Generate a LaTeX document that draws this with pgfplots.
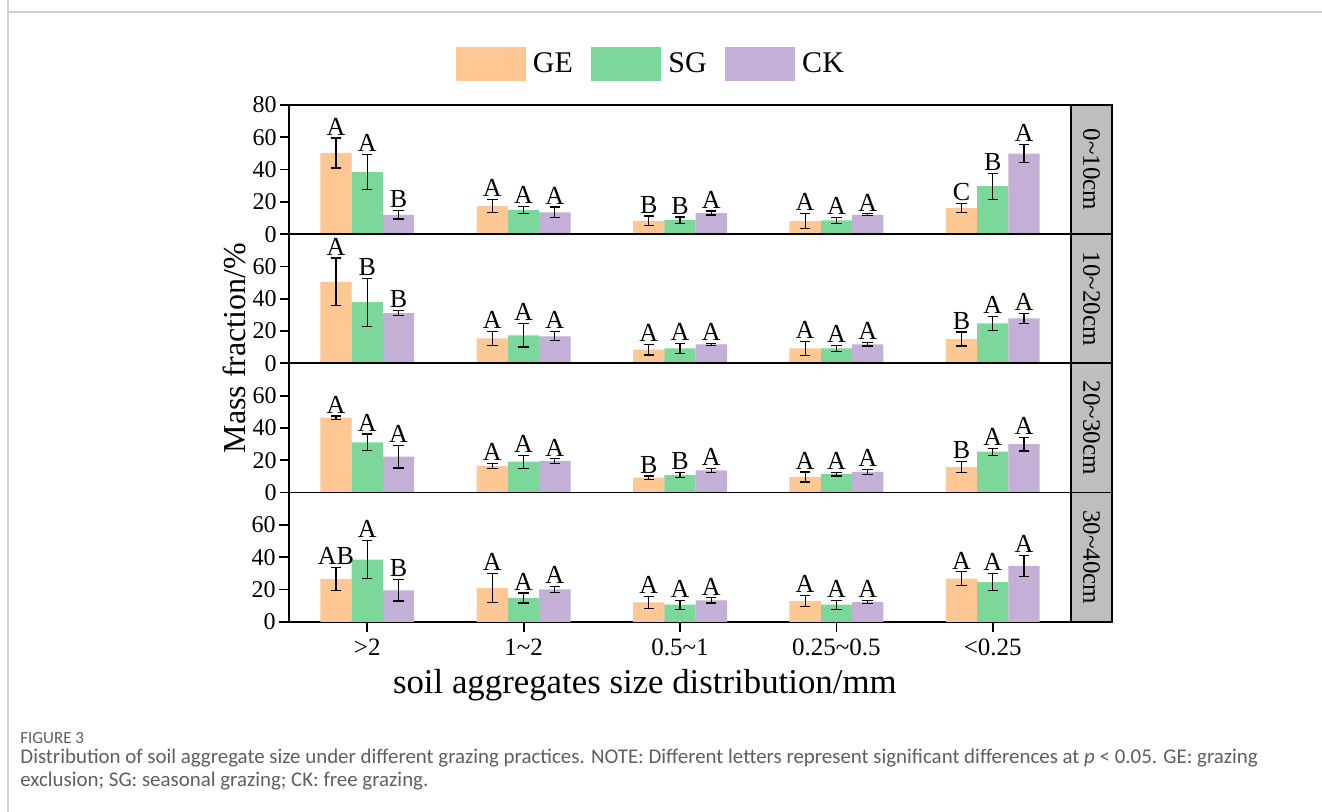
\documentclass[border=0pt]{standalone}
\usepackage[no-math]{fontspec}
\setmainfont{Liberation Serif}
\newfontfamily\tickfont{Liberation Serif}
\newfontfamily\capfont{Carlito}
\usepackage{pgfplots}
\usepackage{pgfplotstable}
\pgfplotsset{compat=1.18}
\definecolor{cGE}{RGB}{255,199,148}
\definecolor{cSG}{RGB}{124,216,154}
\definecolor{cCK}{RGB}{196,175,214}
\definecolor{stripgray}{RGB}{190,190,190}
\definecolor{capgray}{RGB}{95,95,95}

\pgfplotstableread{
x GE GEe SG SGe CK CKe GEl SGl CKl
0 50.3 9.3 38.4 10.8 12.0 2.6 A A B
1 17.4 4.0 14.9 2.3 13.5 3.3 A A A
2 8.3 2.9 8.7 1.9 13.1 1.2 B B A
3 8.1 4.6 8.5 1.9 12.0 0.6 A A A
4 16.2 3.0 29.7 8.0 49.9 5.7 C B A
}\tabA
\pgfplotstableread{
x GE GEe SG SGe CK CKe GEl SGl CKl
0 50.5 14.7 37.9 14.9 31.1 1.5 A B B
1 15.5 4.3 17.4 7.3 16.8 2.8 A A A
2 8.5 3.3 9.3 3.0 11.8 0.5 A A A
3 9.3 4.3 9.3 2.0 11.8 1.0 A A A
4 15.1 4.3 24.8 4.3 27.9 3.1 B A A
}\tabB
\pgfplotstableread{
x GE GEe SG SGe CK CKe GEl SGl CKl
0 46.4 1.0 31.1 5.2 22.2 7.0 A A A
1 16.4 1.6 19.1 4.0 19.5 1.4 A A A
2 9.3 1.0 10.8 1.6 13.7 1.2 B B A
3 9.7 3.1 11.4 1.1 12.8 1.7 A A A
4 15.7 3.4 25.3 2.1 30.0 4.3 B A A
}\tabC
\pgfplotstableread{
x GE GEe SG SGe CK CKe GEl SGl CKl
0 26.5 7.2 38.5 11.8 19.5 6.6 AB A B
1 20.9 8.9 14.7 3.1 20.1 2.0 A A A
2 12.0 3.9 10.6 2.8 13.2 1.6 A A A
3 12.8 3.3 10.6 2.8 12.2 1.0 A A A
4 26.7 4.2 24.6 5.2 34.6 6.5 A A A
}\tabD

\pgfplotsset{
  mylegend/.style={legend image code/.code={\fill[##1] (0pt,-8.5pt) rectangle (35pt,8.5pt);}},
  common/.style={
    scale only axis, width=391pt, height=64.6pt, anchor=north west,
    xmin=-0.5, xmax=4.5, ymin=0, ymax=80,
    axis line style={line width=0.9pt},
    tick align=outside, major tick length=4.5pt,
    tick style={line width=0.9pt, black},
    ytick pos=left, xtick pos=bottom,
    ytick={0,20,40,60},
    yticklabels={\mbox{\tickfont 0},\mbox{\tickfont 20},\mbox{\tickfont 40},\mbox{\tickfont 60}},
    xtick=\empty,
    ticklabel style={font=\fontsize{12}{12}\selectfont},
    yticklabel style={inner sep=1.5pt},
    clip=false,
  },
  barsty/.style={ybar, bar width=0.2, bar shift=0pt, fill=#1, draw=none, mylegend,
    error bars/.cd, y dir=both, y explicit,
    error bar style={black, line width=0.6pt},
    error mark options={black, mark size=2.6pt, line width=0.6pt, rotate=90}},
  letsty/.style={draw=none, mark=none, nodes near coords, point meta=explicit symbolic,
    every node near coord/.style={font=\fontsize{13}{13}\selectfont, anchor=south, inner sep=1.2pt, black}},
}

\newcommand{\panelplots}[2]{%
  \addplot[barsty=cGE] table[x expr=\thisrow{x}-0.2, y=GE, y error=GEe] {#1};
  \addplot[barsty=cSG] table[x=x, y=SG, y error=SGe] {#1};
  \addplot[barsty=cCK] table[x expr=\thisrow{x}+0.2, y=CK, y error=CKe] {#1};
  \addplot[letsty] table[x expr=\thisrow{x}-0.2, y expr=\thisrow{GE}+\thisrow{GEe}, meta=GEl] {#1};
  \addplot[letsty] table[x=x, y expr=\thisrow{SG}+\thisrow{SGe}, meta=SGl] {#1};
  \addplot[letsty] table[x expr=\thisrow{x}+0.2, y expr=\thisrow{CK}+\thisrow{CKe}, meta=CKl] {#1};
  \draw[fill=stripgray, line width=0.9pt] (rel axis cs:1,0) rectangle ([xshift=20.6pt]rel axis cs:1,1);
  \node[rotate=-90, font=\fontsize{12.5}{12.5}\selectfont] at ([xshift=10.3pt]rel axis cs:1,0.5) {#2};
}

\begin{document}
\begin{tikzpicture}
\useasboundingbox (0,0) rectangle (661pt,406pt);
\fill[white] (0,0) rectangle (661pt,406pt);
\draw[black!18, line width=0.6pt] (4pt,406pt) -- (4pt,400pt) -- (661pt,400pt);
\draw[black!18, line width=0.6pt] (4pt,400pt) -- (4pt,0pt);

\begin{axis}[common, at={(144.5pt,353.5pt)}, ytick={0,20,40,60,80},
  yticklabels={\mbox{\tickfont 0},\mbox{\tickfont 20},\mbox{\tickfont 40},\mbox{\tickfont 60},\mbox{\tickfont 80}},
  legend style={at={(axis description cs:0.466,1.317)}, anchor=center, draw=none, fill=none,
    legend columns=3, font=\fontsize{15}{15}\selectfont,
    /tikz/every even column/.append style={column sep=5.75pt},
    nodes={inner xsep=3.5pt}},
  ]
\panelplots{\tabA}{0\textasciitilde10cm}
\legend{GE,SG,CK}
\end{axis}

\begin{axis}[common, at={(144.5pt,288.9pt)}]
\panelplots{\tabB}{10\textasciitilde20cm}
\end{axis}

\begin{axis}[common, at={(144.5pt,224.3pt)}]
\panelplots{\tabC}{20\textasciitilde30cm}
\end{axis}

\begin{axis}[common, at={(144.5pt,159.7pt)},
  xtick={0,1,2,3,4},
  xticklabels={{>2},{1\textasciitilde2},{0.5\textasciitilde1},{0.25\textasciitilde0.5},{<0.25}},
  xticklabel style={font=\fontsize{12.5}{12.5}\selectfont},
  major tick length=5pt,
  xlabel={soil aggregates size distribution/mm},
  xlabel style={font=\fontsize{17.4}{17.4}\selectfont, at={(axis description cs:0.455,-0.49)}, anchor=center},
  ]
\panelplots{\tabD}{30\textasciitilde40cm}
\end{axis}

\node[rotate=90, font=\fontsize{16}{16}\selectfont] at (117pt,232pt) {Mass fraction/\%};

\node[anchor=base west, inner sep=0pt, text=capgray, font=\capfont\fontsize{8.5}{8.5}\selectfont] at (10pt,34pt) {FIGURE 3};
\node[anchor=base west, inner sep=0pt, text=capgray, font=\capfont\fontsize{10.45}{10.45}\selectfont] at (10pt,24.1pt) {Distribution of soil aggregate size under different grazing practices. NOTE: Different letters represent significant differences at {\itshape p} < 0.05. GE: grazing};
\node[anchor=base west, inner sep=0pt, text=capgray, font=\capfont\fontsize{10.45}{10.45}\selectfont] at (10pt,12.6pt) {exclusion; SG: seasonal grazing; CK: free grazing.};
\end{tikzpicture}
\end{document}
